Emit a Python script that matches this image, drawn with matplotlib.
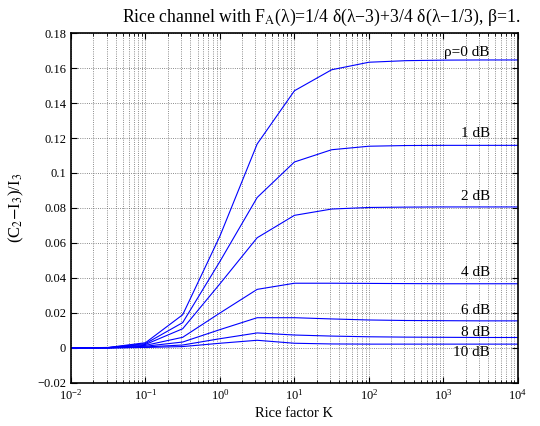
import numpy as np
from matplotlib import pyplot as plt
from matplotlib.ticker import FuncFormatter, FixedLocator, NullFormatter, LogFormatterSciNotation

plt.rcParams['font.family'] = ['Liberation Serif', 'DejaVu Serif']
plt.rcParams['mathtext.fontset'] = 'stix'

# Rice factor K, half-decade steps
K = [0.01, 0.0316, 0.1, 0.316, 1, 3.16, 10, 31.6, 100, 316, 1000, 3162, 10000]

rho_0 = [0, 0.0003, 0.003, 0.019, 0.064, 0.1166, 0.147, 0.159, 0.1633, 0.1642, 0.1645, 0.1646, 0.1646]
rho_1 = [0, 0.0002, 0.0025, 0.0145, 0.0495, 0.086, 0.1063, 0.1133, 0.1153, 0.1157, 0.1158, 0.1158, 0.1158]
rho_2 = [0, 0.0002, 0.002, 0.011, 0.0367, 0.063, 0.0758, 0.0794, 0.0803, 0.0805, 0.0806, 0.0806, 0.0806]
rho_4 = [0, 0.0001, 0.0015, 0.0061, 0.020, 0.0335, 0.037, 0.037, 0.0369, 0.0368, 0.0367, 0.0367, 0.0367]
rho_6 = [0, 0.0001, 0.001, 0.0034, 0.0105, 0.0173, 0.0173, 0.0166, 0.016, 0.0157, 0.0156, 0.0155, 0.0155]
rho_8 = [0, 0.0, 0.0006, 0.0017, 0.0053, 0.0086, 0.0074, 0.0068, 0.0064, 0.0062, 0.0061, 0.006, 0.006]
rho_10 = [0, 0.0, 0.0003, 0.0008, 0.0027, 0.0044, 0.0027, 0.0023, 0.0022, 0.0022, 0.0022, 0.0022, 0.0022]

curves = [rho_0, rho_1, rho_2, rho_4, rho_6, rho_8, rho_10]
labels = ['ρ=0 dB', '1 dB', '2 dB', '4 dB', '6 dB', '8 dB', '10 dB']
label_y = [0.1691, 0.1228, 0.0865, 0.0430, 0.0217, 0.0087, -0.0027]

x_major = [1e-2, 1e-1, 1e0, 1e1, 1e2, 1e3, 1e4]
y_major = [-0.02, 0, 0.02, 0.04, 0.06, 0.08, 0.1, 0.12, 0.14, 0.16, 0.18]

fig = plt.figure(figsize=(5.4, 4.26), dpi=100)
ax = fig.add_axes([0.1315, 0.101, 0.8275, 0.8215])

for c in curves:
    ax.plot(K, c, color=(0, 0, 1), lw=0.8)

# curve labels
for lab, ly in zip(labels, label_y):
    ax.text(4200, ly, lab, ha='right', va='center', fontsize=11)

ax.set_xscale('log')
ax.set_xlim(1e-2, 1e4)
ax.set_ylim(-0.02, 0.18)
ax.yaxis.set_major_locator(FixedLocator(y_major))
ax.yaxis.set_major_formatter(FuncFormatter(lambda v, p: ('%g' % round(v, 3)).replace('-', '\u2212')))
ax.xaxis.set_major_locator(FixedLocator(x_major))
ax.xaxis.set_major_formatter(LogFormatterSciNotation())
minor = [m * d for d in x_major[:-1] for m in range(2, 10)]
ax.xaxis.set_minor_locator(FixedLocator(minor))
ax.xaxis.set_minor_formatter(NullFormatter())

ax.grid(True, which='major', color='0.4', linestyle=':', lw=0.6)
ax.grid(True, which='minor', axis='x', color='0.4', linestyle=':', lw=0.6)
ax.tick_params(which='both', direction='in', top=True, right=True, labelsize=9)
ax.tick_params(which='major', length=4)
ax.tick_params(which='minor', length=2)
for s in ax.spines.values():
    s.set_linewidth(1.2)

ax.set_xlabel('Rice factor K', fontsize=10.5, labelpad=3)
ax.set_ylabel(r'(C$_2$$-$I$_3$)/I$_3$', fontsize=12, labelpad=8)
# title sits a bit right of the axes centre in the original
fig.text(0.594, 0.958, r'Rice channel with F$_\mathrm{A}$(λ)=1/4 δ(λ−3)+3/4 δ(λ−1/3), β=1.',
         ha='center', va='center', fontsize=12.8)

plt.savefig('out.png')
